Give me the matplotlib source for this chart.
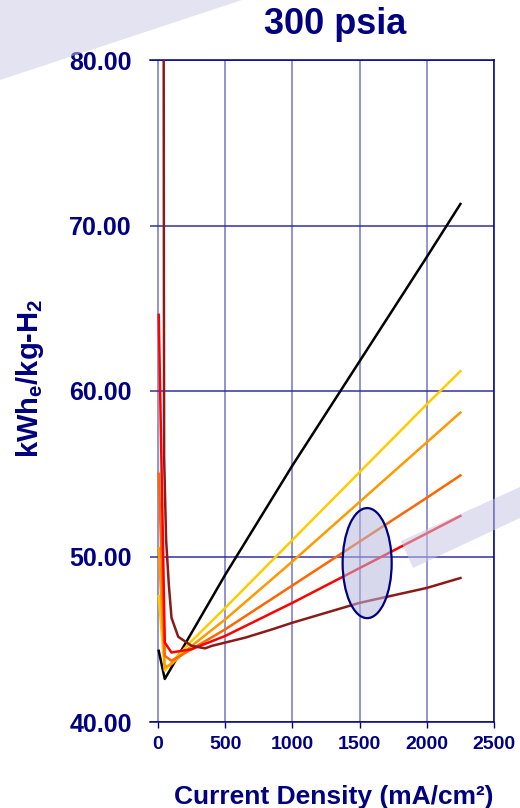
import numpy as np
import matplotlib
matplotlib.use('Agg')
import matplotlib.pyplot as plt
from matplotlib.patches import Ellipse, Polygon

plt.rcParams['font.family'] = ['Liberation Sans', 'DejaVu Sans']
plt.rcParams['mathtext.fontset'] = 'custom'
plt.rcParams['mathtext.rm'] = 'Liberation Sans:bold'
plt.rcParams['mathtext.bf'] = 'Liberation Sans:bold'

navy = '#000080'

# current density (mA/cm2) and energy (kWhe/kg-H2)
x_std = [5, 50, 100, 250, 500, 1000, 1500, 2000, 2250]
black = [44.3, 42.6, 43.3, 45.4, 48.9, 55.5, 61.8, 68.1, 71.3]
yellow = [47.6, 43.1, 43.6, 44.9, 46.9, 51.0, 55.1, 59.2, 61.2]
orange = [50.5, 43.3, 43.5, 44.6, 46.2, 49.7, 53.3, 56.9, 58.7]
dkorange = [55.0, 44.0, 43.7, 44.4, 45.6, 48.25, 50.9, 53.55, 54.9]
red = [64.6, 44.8, 44.2, 44.4, 45.2, 47.2, 49.3, 51.4, 52.45]

x_dkred = [40, 45, 60, 80, 100, 150, 250, 350, 400, 650, 850, 1000, 1500, 2000, 2250]
dkred = [95, 56, 51, 48.3, 46.3, 45.15, 44.6, 44.45, 44.6, 45.1, 45.6, 46.0, 47.2, 48.1, 48.7]

series = [
    (x_std, black, '#000000'),
    (x_std, yellow, '#FFCC00'),
    (x_std, orange, '#FF9900'),
    (x_std, dkorange, '#FF6600'),
    (x_std, red, '#FF0000'),
    (x_dkred, dkred, '#8B1A1A'),
]

xticks = [0, 500, 1000, 1500, 2000, 2500]
yticks = [40, 50, 60, 70, 80]

fig = plt.figure(figsize=(5.2, 8.08), dpi=100)
ax = fig.add_axes([150 / 520, 86 / 808, 344 / 520, 662 / 808])

for xs, ys, c in series:
    ax.plot(xs, ys, color=c, lw=1.8, zorder=3)

ax.set_xlim(-60, 2500)
ax.set_ylim(40, 80)
ax.set_xticks(xticks)
ax.set_yticks(yticks)
ax.set_yticklabels(['%.2f' % v for v in yticks])

ax.grid(axis='x', color='#7777C0', lw=1.1, zorder=1)
ax.grid(axis='y', color='#3030A0', lw=1.1, zorder=1)
ax.set_axisbelow(True)

ax.spines['left'].set_visible(False)
for s in ['top', 'bottom', 'right']:
    ax.spines[s].set_color(navy)
    ax.spines[s].set_linewidth(1.1)

ax.tick_params(axis='x', direction='out', length=4, color=navy, width=1,
               labelsize=14, labelcolor=navy, pad=6)
ax.tick_params(axis='y', length=0, labelsize=18, labelcolor=navy, pad=13)
for lab in ax.get_xticklabels() + ax.get_yticklabels():
    lab.set_fontweight('bold')

ax.set_xlabel('Current Density (mA/cm²)', fontsize=19, fontweight='bold',
              color=navy, va='center')
ax.xaxis.set_label_coords(0.535, -0.113)
ax.set_ylabel(r'kWh$_\mathbf{e}$/kg-H$_\mathbf{2}$', fontsize=21,
              fontweight='bold', color=navy, va='center')
ax.yaxis.set_label_coords((30 - 150) / 344, (722 - 378) / 662)

# highlighted region
ell = Ellipse((1556, 49.6), 365, 6.65, facecolor=(0.72, 0.72, 0.87),
              alpha=0.55, edgecolor='none', zorder=4)
ax.add_patch(ell)
ax.add_patch(Ellipse((1556, 49.6), 365, 6.65, facecolor='none',
                     edgecolor=navy, lw=1.6, zorder=5))

fig.text(335 / 520, 1 - 25 / 808, '300 psia', fontsize=26, fontweight='bold',
         color=navy, ha='center', va='center')

# decorative background bands
def px(xp, yp):
    return (xp / 520, 1 - yp / 808)

band1 = Polygon([px(0, 0), px(242, 0), px(0, 80)], closed=True,
                transform=fig.transFigure, facecolor='#C8C8E4', alpha=0.5,
                edgecolor='none', zorder=10)
band2 = Polygon([px(401, 541), px(413, 568), px(520, 518), px(520, 487)],
                closed=True, transform=fig.transFigure, facecolor='#C8C8E4',
                alpha=0.55, edgecolor='none', zorder=10)
fig.patches.extend([band1, band2])

fig.savefig('out.png', dpi=100)
